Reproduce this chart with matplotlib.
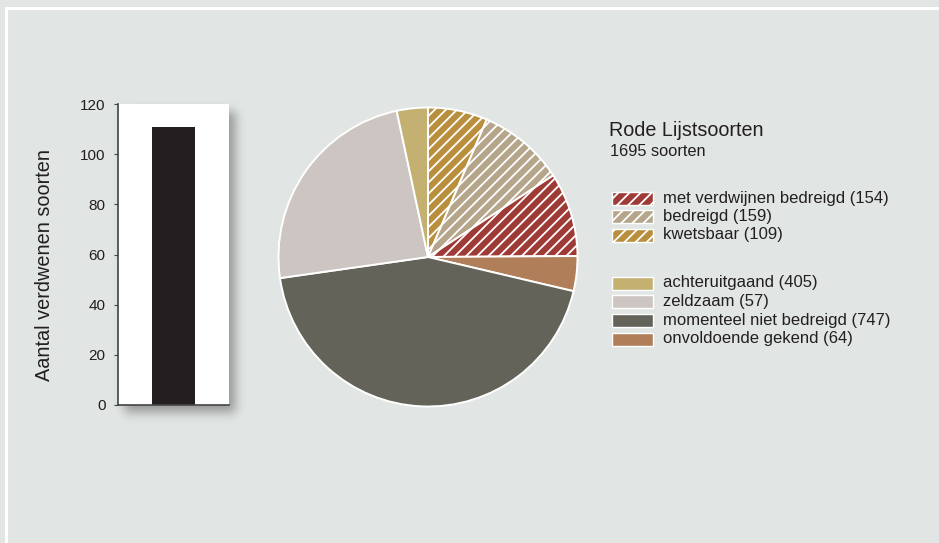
import matplotlib

matplotlib.use("Agg")
import matplotlib.pyplot as plt
import numpy as np
from math import erf
from matplotlib.patches import Rectangle

plt.rcParams["font.family"] = ["Liberation Sans", "DejaVu Sans"]
plt.rcParams["hatch.linewidth"] = 1.3

BG = "#e1e5e3"
INK = "#231f20"

# extinct species (single bar)
extinct_count = [111]
bar_ticks = [0, 20, 40, 60, 80, 100, 120]

# pie slices, clockwise from 12 o'clock
slice_values = [109, 159, 154, 64, 747, 405, 57]
slice_colors = ["#b98f3e", "#b5a68b", "#9e3b36", "#b07f5a", "#63635a", "#cdc5c1", "#c4b172"]
slice_hatched = [True, True, True, False, False, False, False]

# legend rows
legend_labels = [
    "met verdwijnen bedreigd (154)",
    "bedreigd (159)",
    "kwetsbaar (109)",
    "achteruitgaand (405)",
    "zeldzaam (57)",
    "momenteel niet bedreigd (747)",
    "onvoldoende gekend (64)",
]
legend_colors = ["#9e3b36", "#b5a68b", "#b98f3e", "#c4b172", "#cdc5c1", "#63635a", "#b07f5a"]
legend_hatched = [True, True, True, False, False, False, False]
total_species = sum(slice_values)

HATCH = "///"

W, H = 939, 543
fig = plt.figure(figsize=(W / 100, H / 100), dpi=100)
fig.patch.set_facecolor(BG)


def fig_rect(x0, y0, x1, y1):
    """pixel box (top-left origin) -> figure fraction [l, b, w, h]"""
    return [x0 / W, 1 - y1 / H, (x1 - x0) / W, (y1 - y0) / H]


def soft_edge(n, lo, hi, sig):
    a = np.arange(n)
    v = np.vectorize(erf)
    s = sig * np.sqrt(2)
    return 0.5 * (v((a - lo) / s) - v((a - hi) / s))


# background layer: frame lines, shadow behind the bar panel, legend
bg = fig.add_axes([0, 0, 1, 1], zorder=-5)
bg.axis("off")
shadow = np.outer(soft_edge(H, 104 + 7, 405 + 7, 5.0), soft_edge(W, 118 + 6, 229 + 6, 5.0))
rgba = np.zeros((H, W, 4))
rgba[..., :3] = 0.25
rgba[..., 3] = shadow * 0.45
bg.imshow(rgba, extent=(0, W, H, 0), interpolation="bilinear", zorder=0)
bg.add_patch(Rectangle((5, 7), W, 2.5, facecolor="white", edgecolor="none", zorder=1))
bg.add_patch(Rectangle((5, 7), 2.5, H, facecolor="white", edgecolor="none", zorder=1))
bg.set_xlim(0, W)
bg.set_ylim(H, 0)

# bar panel
ax_bar = fig.add_axes(fig_rect(118, 104, 229, 405))
ax_bar.set_facecolor("white")
ax_bar.bar([0], extinct_count, width=0.39, color=INK)
ax_bar.set_xlim(-0.5, 0.5)
ax_bar.set_ylim(0, 120)
ax_bar.set_yticks(bar_ticks)
ax_bar.set_xticks([])
for side in ("top", "right"):
    ax_bar.spines[side].set_visible(False)
for side in ("left", "bottom"):
    ax_bar.spines[side].set_color("#444444")
    ax_bar.spines[side].set_linewidth(1.2)
ax_bar.tick_params(axis="y", direction="out", length=3, width=0.8, color="#444444",
                   labelsize=11, labelcolor=INK, pad=6)
bg.text(45, 265, "Aantal verdwenen soorten", rotation=90, fontsize=14.3, color=INK,
        ha="center", va="center")

# pie
cx, cy, r = 428, 257, 151
ax_pie = fig.add_axes(fig_rect(cx - r, cy - r, cx + r, cy + r))
wedges, _ = ax_pie.pie(
    slice_values,
    colors=slice_colors,
    startangle=90,
    counterclock=False,
    radius=1,
    wedgeprops=dict(edgecolor="white", linewidth=1.4),
)
for wedge, hatched in zip(wedges, slice_hatched):
    if hatched:
        wedge.set_hatch(HATCH)
ax_pie.set_xlim(-1.01, 1.01)
ax_pie.set_ylim(-1.01, 1.01)
ax_pie.set_aspect("equal")
ax_pie.axis("off")

# legend
bg.text(609, 131, "Rode Lijstsoorten", fontsize=14.2, color=INK, va="center", ha="left")
bg.text(610, 151, f"{total_species} soorten", fontsize=11.8, color=INK, va="center", ha="left")
row_y = [198, 216.5, 235, 283, 301.5, 320, 339]
for yc, label, color, hatched in zip(row_y, legend_labels, legend_colors, legend_hatched):
    bg.add_patch(Rectangle((612, yc - 6.5), 41, 13, facecolor=color, edgecolor="white",
                           linewidth=1.0, hatch=HATCH if hatched else None, zorder=2))
    bg.text(663, yc, label, fontsize=12, color=INK, va="center", ha="left")

fig.savefig("out.png", dpi=100, facecolor=BG)
